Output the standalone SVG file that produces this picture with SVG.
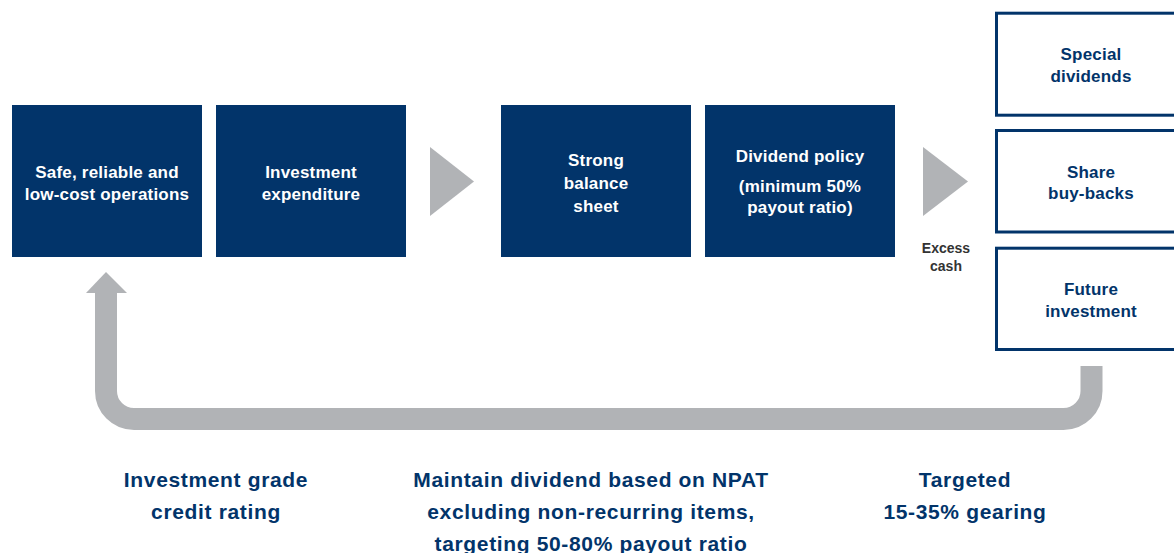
<svg xmlns="http://www.w3.org/2000/svg" width="1174" height="553" viewBox="0 0 1174 553">
<style>
.box{fill:#02346A}
.obox{fill:#fff;stroke:#02346A;stroke-width:3}
.tri{fill:#B1B3B6}
.wt{fill:#fff;font-family:"Liberation Sans",Arial,sans-serif;font-weight:bold;font-size:17px;text-anchor:middle;letter-spacing:0.2px}
.nt{fill:#02346A;font-family:"Liberation Sans",Arial,sans-serif;font-weight:bold;font-size:17px;text-anchor:middle;letter-spacing:0.2px}
.gt{fill:#333;font-family:"Liberation Sans",Arial,sans-serif;font-weight:bold;font-size:14px;text-anchor:middle}
.bt{fill:#02346A;font-family:"Liberation Sans",Arial,sans-serif;font-weight:bold;font-size:21px;text-anchor:middle;letter-spacing:0.65px}
</style>
<rect width="1174" height="553" fill="#fff"/>
<g id="connectors">
<polygon class="tri" points="430,147 474,181.5 430,216"/>
<polygon class="tri" points="923,147 968,181.5 923,216"/>
<path d="M1091.5,366 V391 A28,28 0 0 1 1063.5,419 H134 A28,28 0 0 1 106,391 V292" fill="none" stroke="#B1B3B6" stroke-width="22"/>
<polygon class="tri" points="86,293 106,272 127,293"/>
</g>
<g id="n1"><rect class="box" x="12" y="105" width="190" height="152"/>
<text class="wt" x="107" y="178">Safe, reliable and</text><text class="wt" x="107" y="200">low-cost operations</text></g>
<g id="n2"><rect class="box" x="216" y="105" width="190" height="152"/>
<text class="wt" x="311" y="178">Investment</text><text class="wt" x="311" y="200">expenditure</text></g>
<g id="n3"><rect class="box" x="501" y="105" width="190" height="152"/>
<text class="wt" x="596" y="166">Strong</text><text class="wt" x="596" y="189">balance</text><text class="wt" x="596" y="212">sheet</text></g>
<g id="n4"><rect class="box" x="705" y="105" width="190" height="152"/>
<text class="wt" x="800" y="162">Dividend policy</text><text class="wt" x="800" y="192">(minimum 50%</text><text class="wt" x="800" y="213">payout ratio)</text></g>
<g id="excess"><text class="gt" x="946" y="253">Excess</text><text class="gt" x="946" y="271">cash</text></g>
<g id="n5"><rect class="obox" x="996.5" y="13.2" width="200" height="102"/>
<text class="nt" x="1091" y="60">Special</text><text class="nt" x="1091" y="82">dividends</text></g>
<g id="n6"><rect class="obox" x="996.5" y="130.5" width="200" height="101.5"/>
<text class="nt" x="1091" y="178">Share</text><text class="nt" x="1091" y="199">buy-backs</text></g>
<g id="n7"><rect class="obox" x="996.5" y="248.2" width="200" height="101.3"/>
<text class="nt" x="1091" y="295">Future</text><text class="nt" x="1091" y="317">investment</text></g>
<g id="labels">
<text class="bt" x="216" y="487">Investment grade</text><text class="bt" x="216" y="519">credit rating</text>
<text class="bt" x="591" y="487">Maintain dividend based on NPAT</text><text class="bt" x="591" y="519">excluding non-recurring items,</text><text class="bt" x="591" y="551">targeting 50-80% payout ratio</text>
<text class="bt" x="965" y="487">Targeted</text><text class="bt" x="965" y="519">15-35% gearing</text>
</g>
</svg>
